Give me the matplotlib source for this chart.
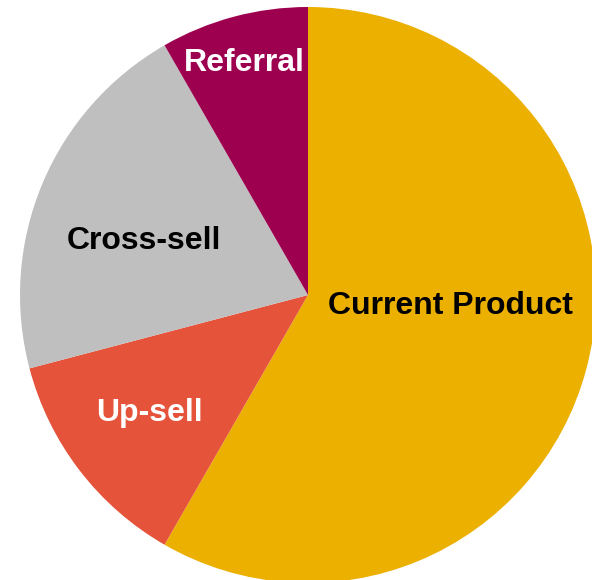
import matplotlib
matplotlib.use("Agg")
import matplotlib.pyplot as plt

# pie slices, clockwise from 12 o'clock
segments = ["Current Product", "Up-sell", "Cross-sell", "Referral"]
shares = [58.3, 12.6, 20.8, 8.3]
colors = ["#EBB000", "#E5533A", "#BFBFBF", "#9E0050"]
label_colors = ["black", "white", "black", "white"]

# label anchor points (pie radius = 1)
label_pos = [(0.493, -0.038), (-0.549, -0.409), (-0.569, 0.188), (-0.222, 0.806)]

plt.rcParams['font.family'] = ['Liberation Sans', 'DejaVu Sans']

fig = plt.figure(figsize=(5.92, 5.80), dpi=100)
ax = fig.add_axes([0, 0, 1, 1])

ax.pie(shares, colors=colors, startangle=90, counterclock=False,
       radius=1, wedgeprops=dict(linewidth=0))

for name, (x, y), c in zip(segments, label_pos, label_colors):
    ax.text(x, y, name, color=c, fontsize=23, fontweight='bold',
            ha='center', va='center')

# centre at (308, 295) px, radius 288 px
r = 288
ax.set_xlim(-308 / r, (592 - 308) / r)
ax.set_ylim(-(580 - 295) / r, 295 / r)
ax.set_aspect('auto')
ax.axis('off')

plt.savefig("out.png", dpi=100)
